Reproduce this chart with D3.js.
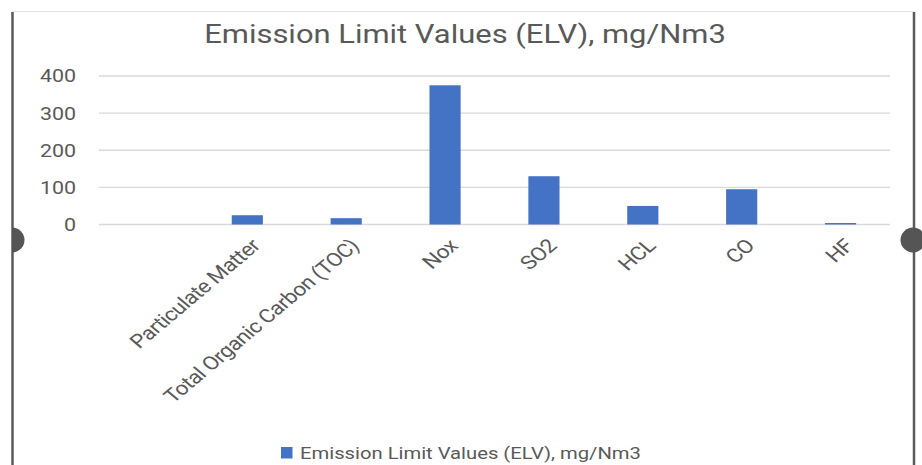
<!DOCTYPE html>
<html><head><meta charset="utf-8">
<script src="https://cdn.jsdelivr.net/npm/d3@7"></script>
<style>
html,body{margin:0;padding:0;background:#fff;}
svg{display:block;font-family:Roboto,"Noto Sans",sans-serif;}
</style></head>
<body><svg id="c" width="922" height="465"></svg>
<script>
const categories = ["", "Particulate Matter", "Total Organic Carbon (TOC)", "Nox", "SO2", "HCL", "CO", "HF"];
const values = [null, 25, 17, 375, 130, 50, 95, 4];
const yTicks = [0, 100, 200, 300, 400];
const title = "Emission Limit Values (ELV), mg/Nm3";
const seriesName = "Emission Limit Values (ELV), mg/Nm3";

const SX = 1.19; // horizontal stretch of the reference image
const svg = d3.select("#c");
const x = d3.scaleBand().domain(categories.map((d,i)=>i)).range([99, 890]).padding(0);
const y = d3.scaleLinear().domain([0, 400]).range([224.5, 76]);
const textColor = "#595959";

// frame decorations
svg.append("line").attr("x1",12).attr("x2",914).attr("y1",11.5).attr("y2",11.5).attr("stroke","#e4e4e4").attr("stroke-width",1);
svg.append("line").attr("x1",12.5).attr("x2",12.5).attr("y1",12).attr("y2",465).attr("stroke","#5a5a5a").attr("stroke-width",2.5);
svg.append("line").attr("x1",914).attr("x2",914).attr("y1",12).attr("y2",465).attr("stroke","#5a5a5a").attr("stroke-width",2.5);
svg.append("path").attr("d", d3.arc()({innerRadius:0, outerRadius:12.5, startAngle:0, endAngle:Math.PI}))
  .attr("transform","translate(12,240)").attr("fill","#555");
svg.append("circle").attr("cx",913).attr("cy",240).attr("r",12.5).attr("fill","#555");

// title
svg.append("text").attr("transform",`translate(465,43) scale(${SX},1)`)
  .attr("text-anchor","middle").attr("font-size",26).attr("fill",textColor).text(title);

// gridlines
svg.append("g").selectAll("line").data(yTicks).join("line")
  .attr("x1",99).attr("x2",890).attr("y1",d=>y(d)).attr("y2",d=>y(d))
  .attr("stroke","#d9d9d9").attr("stroke-width",1.3);

// y labels
svg.append("g").selectAll("text").data(yTicks).join("text")
  .attr("transform",d=>`translate(76,${y(d)}) scale(${SX},1)`)
  .attr("text-anchor","end").attr("dy","0.36em").attr("font-size",18).attr("fill",textColor).text(d=>d);

// bars
const bw = x.bandwidth()*0.315;
svg.append("g").selectAll("rect").data(values.map((v,i)=>({v,i})).filter(d=>d.v!=null)).join("rect")
  .attr("x",d=>x(d.i)+x.bandwidth()/2-bw/2).attr("width",bw)
  .attr("y",d=>y(d.v)).attr("height",d=>y(0)-y(d.v)).attr("fill","#4472C4");

// x labels
svg.append("g").selectAll("text").data(categories.map((c,i)=>({c,i})).filter(d=>d.c!=="")).join("text")
  .attr("transform",d=>`translate(${x(d.i)+x.bandwidth()/2+14},247) scale(${SX},1) rotate(-45)`)
  .attr("text-anchor","end").attr("font-size",19).attr("letter-spacing",-0.4).attr("fill",textColor).text(d=>d.c);

// legend
const lg = svg.append("g");
lg.append("rect").attr("x",281).attr("y",447).attr("width",11.5).attr("height",11.5).attr("fill","#4472C4");
lg.append("text").attr("transform",`translate(300,459) scale(${SX},1)`)
  .attr("font-size",17).attr("fill",textColor).text(seriesName);
</script></body></html>
